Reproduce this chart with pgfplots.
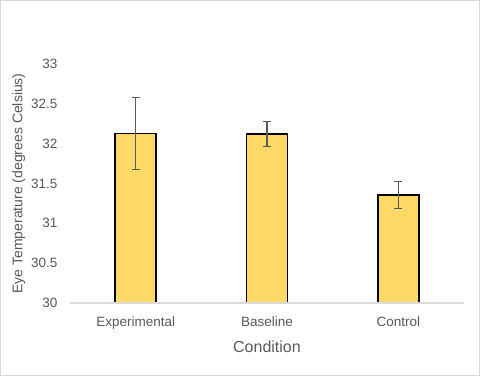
\documentclass[border=0pt]{standalone}
\usepackage{pgfplots}
\pgfplotsset{compat=1.18}
\usepackage{fontspec}
\setmainfont{Liberation Sans}
\definecolor{barfill}{RGB}{255,217,102}
\definecolor{txt}{RGB}{89,89,89}
\definecolor{axisgray}{RGB}{217,217,217}
\begin{document}
\begin{tikzpicture}[x=1pt,y=1pt]
\fill[white] (0,0) rectangle (480,376);
\draw[axisgray,line width=1pt] (0.5,0.5) rectangle (479.5,375.5);
\begin{axis}[
  at={(70pt,73pt)}, anchor=south west,
  scale only axis, width=394pt, height=239pt,
  xmin=-0.5, xmax=2.5, ymin=30, ymax=33,
  ytick={30,30.5,31,31.5,32,32.5,33},
  yticklabels={30,30.5,31,31.5,32,32.5,33},
  xtick={0,1,2}, xticklabels={Experimental,Baseline,Control},
  axis on top,
  axis x line*=bottom, axis y line*=left,
  x axis line style={draw=axisgray,line width=1.3pt},
  y axis line style={draw=none},
  major tick length=0pt,
  tick label style={font=\fontsize{13.5}{15}\selectfont, text=txt},
  yticklabel style={xshift=-9pt},
  xticklabel style={yshift=-10pt},
  xlabel={Condition}, ylabel={Eye Temperature (degrees Celsius)},
  xlabel style={font=\fontsize{16}{18}\selectfont, text=txt, yshift=-5pt},
  ylabel style={font=\fontsize{14}{16}\selectfont, text=txt, yshift=-1pt},
  clip=false,
]
\addplot[ybar, bar width=41pt, fill=barfill, draw=black, line width=1.6pt,
  error bars/.cd, y dir=both, y explicit,
  error bar style={draw=txt, line width=1.1pt},
  error mark options={rotate=90, mark size=4pt, line width=1.1pt, draw=txt}]
  coordinates {
  (0,32.13) +- (0,0.45)
  (1,32.12) +- (0,0.155)
  (2,31.355) +- (0,0.17)
  };
\end{axis}
\end{tikzpicture}
\end{document}
